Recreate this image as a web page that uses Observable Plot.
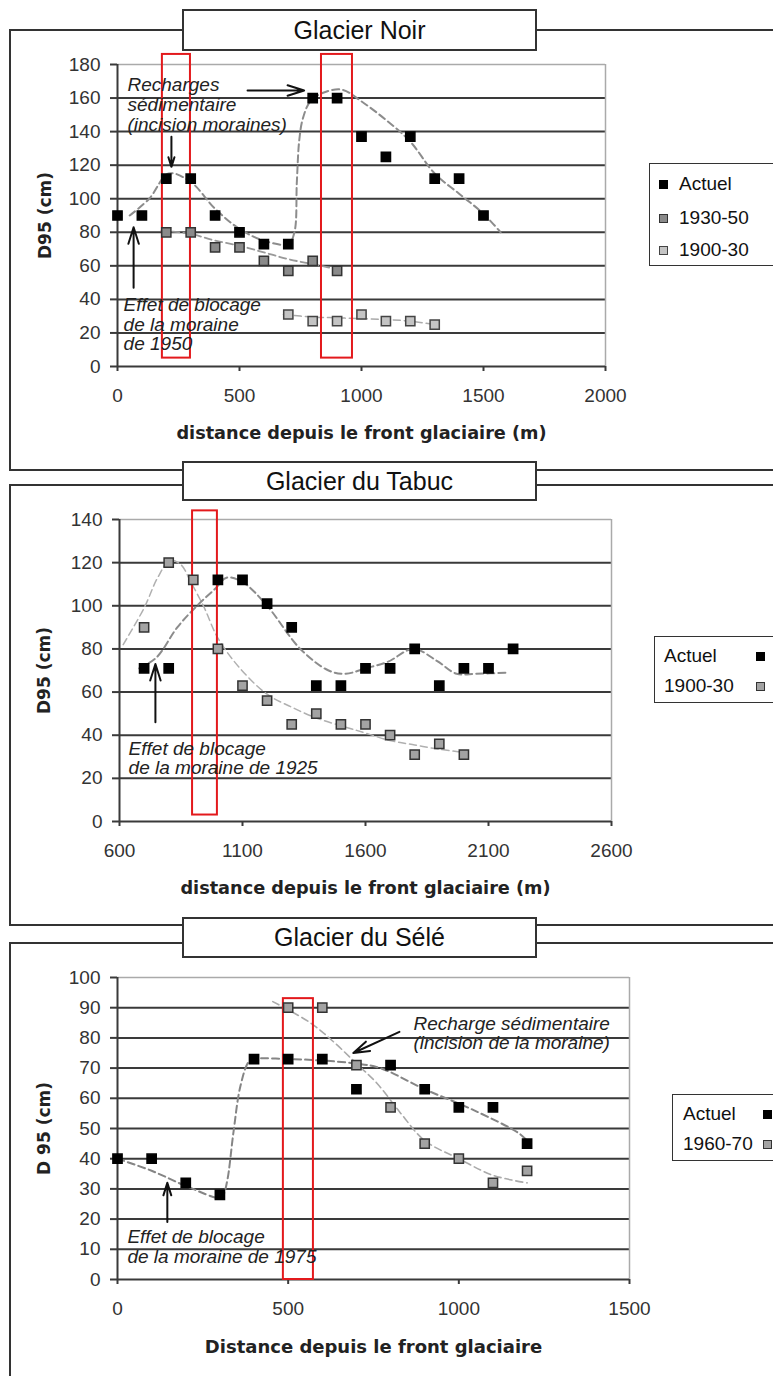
<!DOCTYPE html>
<html><head><meta charset="utf-8">
<script src="https://cdn.jsdelivr.net/npm/d3@7"></script>
<script src="https://cdn.jsdelivr.net/npm/@observablehq/plot@0.6"></script>
<style>
body{margin:0;background:#fff;}
#page{position:relative;width:773px;height:1376px;overflow:hidden;background:#fff;font-family:"Liberation Sans",Arial,sans-serif;}
.frame{position:absolute;left:9px;width:900px;border:2px solid #333;box-sizing:border-box;z-index:1;}
.title{position:absolute;left:182px;width:355px;background:#fff;border:2px solid #333;box-sizing:border-box;text-align:center;font-size:25px;color:#111;z-index:3;}
.legend{position:absolute;width:300px;background:#fff;border:1.5px solid #333;box-sizing:border-box;z-index:3;font-size:19px;color:#111;}
.item{position:absolute;white-space:nowrap;height:20px;line-height:20px;}
.sw{position:absolute;width:9px;height:9px;box-sizing:border-box;}
.plot{position:absolute;left:0;z-index:2;}
</style></head><body><div id="page"></div>
<script>
// ---------- Glacier Noir ----------
const noirTitle = "Glacier Noir";
const noirXTicks = [0, 500, 1000, 1500, 2000];
const noirYTicks = [0, 20, 40, 60, 80, 100, 120, 140, 160, 180];
const noirActuelDist = [0,100,200,300,400,500,600,700,800,900,1000,1100,1200,1300,1400,1500];
const noirActuelD95  = [90,90,112,112,90,80,73,73,160,160,137,125,137,112,112,90];
const noir1930Dist = [200,300,400,500,600,700,800,900];
const noir1930D95  = [80,80,71,71,63,57,63,57];
const noir1900Dist = [700,800,900,1000,1100,1200,1300];
const noir1900D95  = [31,27,27,31,27,27,25];
const noirActuelTrend = [[50,90],[130,100],[210,115],[300,110],[400,94],[500,82],[600,75],[700,73],[725,80],[735,110],[745,135],[760,148],[790,158],[840,163],[920,165],[1000,158],[1100,147],[1200,134],[1300,115],[1400,103],[1500,91],[1570,80]];
const noir1930Trend = [[180,81],[300,79],[400,75],[500,72],[600,68],[700,64],[800,61],[900,58]];
const noir1900Trend = [[680,31],[800,29.5],[900,29],[1000,28.5],[1100,28],[1200,27],[1300,25]];
const noirBoxes = [[184,299,5,186],[836,963,5,186]];
const noirNotes = [
  {x:41, y:156, text:"Recharges\nsédimentaire\n(incision moraines)"},
  {x:25, y:25, text:"Effet de blocage\nde la moraine\nde 1950"}
];
const noirArrows = [[533,164.5,765,164.5],[221,137,221,119],[66,47,66,83]];
const noirLegend = ["Actuel", "1930-50", "1900-30"];

// ---------- Glacier du Tabuc ----------
const tabucTitle = "Glacier du Tabuc";
const tabucXTicks = [600, 1100, 1600, 2100, 2600];
const tabucYTicks = [0, 20, 40, 60, 80, 100, 120, 140];
const tabucActuelDist = [700,800,1000,1100,1200,1300,1400,1500,1600,1700,1800,1900,2000,2100,2200];
const tabucActuelD95  = [71,71,112,112,101,90,63,63,71,71,80,63,71,71,80];
const tabuc1900Dist = [700,800,900,1000,1100,1200,1300,1400,1500,1600,1700,1800,1900,2000];
const tabuc1900D95  = [90,120,112,80,63,56,45,50,45,45,40,31,36,31];
const tabucActuelTrend = [[680,71],[750,76],[835,90],[915,100],[990,108],[1035,113],[1100,111],[1200,100],[1335,80],[1450,70],[1520,68.5],[1600,71],[1690,74],[1795,80],[1890,74.5],[1970,68.5],[2050,68.5],[2180,69]];
const tabuc1900Trend = [[615,82],[700,99],[755,113],[805,121],[850,119],[890,111],[945,99],[1000,85],[1090,71],[1200,59],[1300,53],[1400,48],[1527,43.5],[1600,41],[1700,37.5],[1800,35.5],[1900,33.5],[2000,32]];
const tabucBoxes = [[897,998,3,144]];
const tabucNotes = [{x:637, y:29.4, text:"Effet de blocage\nde la moraine de 1925"}];
const tabucArrows = [[746,46,746,73]];
const tabucLegend = ["Actuel", "1900-30"];

// ---------- Glacier du Sélé ----------
const seleTitle = "Glacier du Sélé";
const seleXTicks = [0, 500, 1000, 1500];
const seleYTicks = [0, 10, 20, 30, 40, 50, 60, 70, 80, 90, 100];
const seleActuelDist = [0,100,200,300,400,500,600,700,800,900,1000,1100,1200];
const seleActuelD95  = [40,40,32,28,73,73,73,63,71,63,57,57,45];
const sele1960Dist = [500,600,700,800,900,1000,1100,1200];
const sele1960D95  = [90,90,71,57,45,40,32,36];
const seleActuelTrend = [[0,40],[100,36],[200,31],[300,27],[310,28],[322,33],[340,49],[360,64],[384,72],[400,73],[500,73],[600,72.5],[700,71.5],[770,70],[900,63],[1045,56],[1175,48.5],[1200,46]];
const sele1960Trend = [[455,92],[565,85],[635,78.5],[700,71.5],[760,65],[830,55],[900,46],[1000,40],[1100,34.5],[1200,32]];
const seleBoxes = [[486,574,0,93]];
const seleNotes = [
  {x:867, y:81.5, text:"Recharge sédimentaire\n(incision de la moraine)"},
  {x:29, y:10.8, text:"Effet de blocage\nde la moraine de 1975"}
];
const seleArrows = [[826,82,691,75],[146,19,146,32]];
const seleLegend = ["Actuel", "1960-70"];

const xTitleM = "distance depuis le front glaciaire (m)";
const xTitleSele = "Distance depuis le front glaciaire";
const yTitleD95 = "D95 (cm)";
const yTitleSele = "D 95 (cm)";

// ---------- styles ----------
const BLACK = {fill:"#000", stroke:"#000"};
const GREY_MID = {fill:"#8a8a8a", stroke:"#333"};
const GREY_LIGHT = {fill:"#c4c4c4", stroke:"#444"};
const GREY_T = {fill:"#a3a3a3", stroke:"#333"};

const page = document.getElementById("page");

function makePanel(p) {
  const marks = [
    Plot.ruleY(p.yTicks.slice(1, -1), {stroke:"#3a3a3a", strokeWidth:2}),
    Plot.ruleY([p.yDomain[1]], {stroke:"#aaa", strokeWidth:1.5}),
    Plot.ruleX([p.xDomain[1]], {stroke:"#aaa", strokeWidth:1.5}),
    Plot.ruleX([p.xDomain[0]], {stroke:"#3a3a3a", strokeWidth:2}),
    Plot.ruleY([p.yDomain[0]], {stroke:"#3a3a3a", strokeWidth:2}),
    Plot.axisY(p.yTicks, {tickSize:7, tickPadding:10, strokeWidth:2, tickFormat:"d", label:null, fontSize:19, fill:"#333", stroke:"#3a3a3a"}),
    Plot.axisX(p.xTicks, {tickSize:5, tickPadding:17, strokeWidth:2, tickFormat:"d", label:null, fontSize:19, fill:"#333", stroke:"#3a3a3a"})
  ];
  for (const t of p.trends) {
    marks.push(Plot.line(t.data, {x:d=>d[0], y:d=>d[1], stroke:t.color, strokeWidth:t.width, strokeDasharray:"7,4", curve:"catmull-rom"}));
  }
  marks.push(Plot.rect(p.boxes, {x1:d=>d[0], x2:d=>d[1], y1:d=>d[2], y2:d=>d[3], fill:"none", stroke:"#e3191c", strokeWidth:2}));
  for (const s of p.series) {
    marks.push(Plot.dot(s.dist, {x:s.dist, y:s.d95, symbol:"square", r:5.2, fill:s.style.fill, stroke:s.style.stroke, strokeWidth:1.5}));
  }
  marks.push(Plot.arrow(p.arrows, {x1:d=>d[0], y1:d=>d[1], x2:d=>d[2], y2:d=>d[3], stroke:"#111", strokeWidth:2, headLength:13, headAngle:35}));
  marks.push(Plot.text(p.notes, {x:"x", y:"y", text:"text", textAnchor:"start", fontStyle:"italic", fontSize:19, lineHeight:1.03, fill:"#222"}));
  marks.push(Plot.text([p.xTitle], {text:d=>d, frameAnchor:"bottom", lineAnchor:"middle", textAnchor:"middle", dy:p.xTitleDy, fontWeight:"bold", fontFamily:"DejaVu Sans", fontSize:p.xTitleSize, fill:"#222"}));
  marks.push(Plot.text([p.yTitle], {text:d=>d, frameAnchor:"left", lineAnchor:"middle", textAnchor:"middle", dx:p.yTitleDx, rotate:-90, fontWeight:"bold", fontFamily:"DejaVu Sans", fontSize:17, fill:"#222"}));

  const svg = Plot.plot({
    width:773, height:p.height,
    marginLeft:p.ml, marginRight:p.mr, marginTop:p.mt, marginBottom:p.mb,
    x:{domain:p.xDomain}, y:{domain:p.yDomain},
    style:{fontFamily:'"Liberation Sans", Arial, sans-serif', fontSize:"19px", background:"transparent", overflow:"visible", color:"#333"},
    marks
  });
  svg.classList.add("plot");
  svg.style.top = p.top + "px";
  page.appendChild(svg);

  // frame + title
  const fr = document.createElement("div");
  fr.className = "frame";
  fr.style.top = p.frameTop + "px";
  fr.style.height = p.frameHeight + "px";
  page.appendChild(fr);
  const ti = document.createElement("div");
  ti.className = "title";
  ti.style.top = p.titleTop + "px";
  ti.style.height = p.titleHeight + "px";
  ti.style.lineHeight = (p.titleHeight - 4) + "px";
  ti.textContent = p.title;
  page.appendChild(ti);

  // legend
  const lg = document.createElement("div");
  lg.className = "legend";
  lg.style.left = p.legend.left + "px";
  lg.style.top = p.legend.top + "px";
  lg.style.height = p.legend.height + "px";
  p.legend.labels.forEach((lab, i) => {
    const cy = p.legend.rows[i];
    const it = document.createElement("div");
    it.className = "item";
    it.style.left = p.legend.textX + "px";
    it.style.top = (cy - 10) + "px";
    it.textContent = lab;
    lg.appendChild(it);
    const sw = document.createElement("div");
    sw.className = "sw";
    const st = p.series[i].style;
    sw.style.background = st.fill;
    sw.style.border = "1.5px solid " + st.stroke;
    sw.style.left = (p.legend.markX - 4.5) + "px";
    sw.style.top = (cy - 4.5) + "px";
    lg.appendChild(sw);
  });
  page.appendChild(lg);
}

makePanel({
  title:noirTitle, top:0, height:470, ml:117, mr:168, mt:64, mb:104,
  frameTop:29, frameHeight:442, titleTop:9, titleHeight:42,
  xDomain:[0,2000], yDomain:[0,180], xTicks:noirXTicks, yTicks:noirYTicks,
  series:[
    {dist:noir1900Dist, d95:noir1900D95, style:GREY_LIGHT},
    {dist:noir1930Dist, d95:noir1930D95, style:GREY_MID},
    {dist:noirActuelDist, d95:noirActuelD95, style:BLACK}
  ].reverse(),
  trends:[
    {data:noir1900Trend, color:"#aaa", width:1.5},
    {data:noir1930Trend, color:"#999", width:1.8},
    {data:noirActuelTrend, color:"#8c8c8c", width:2}
  ],
  boxes:noirBoxes, notes:noirNotes, arrows:noirArrows,
  xTitle:xTitleM, xTitleDy:67, xTitleSize:17.7, yTitle:yTitleD95, yTitleDx:-72,
  legend:{left:649, top:163, height:103, labels:noirLegend, rows:[20,54,86], textX:29, markX:13}
});

makePanel({
  title:tabucTitle, top:470, height:455, ml:119, mr:162, mt:49, mb:104,
  frameTop:484, frameHeight:442, titleTop:461, titleHeight:40,
  xDomain:[600,2600], yDomain:[0,140], xTicks:tabucXTicks, yTicks:tabucYTicks,
  series:[
    {dist:tabucActuelDist, d95:tabucActuelD95, style:BLACK},
    {dist:tabuc1900Dist, d95:tabuc1900D95, style:GREY_T}
  ],
  trends:[
    {data:tabuc1900Trend, color:"#b0b0b0", width:1.5},
    {data:tabucActuelTrend, color:"#8c8c8c", width:2}
  ],
  boxes:tabucBoxes, notes:tabucNotes, arrows:tabucArrows,
  xTitle:xTitleM, xTitleDy:67, xTitleSize:17.7, yTitle:yTitleD95, yTitleDx:-75,
  legend:{left:654, top:636, height:67, labels:tabucLegend, rows:[19,49], textX:9, markX:105}
});

makePanel({
  title:seleTitle, top:925, height:451, ml:117, mr:144, mt:52, mb:97,
  frameTop:942, frameHeight:600, titleTop:917, titleHeight:41,
  xDomain:[0,1500], yDomain:[0,100], xTicks:seleXTicks, yTicks:seleYTicks,
  series:[
    {dist:seleActuelDist, d95:seleActuelD95, style:BLACK},
    {dist:sele1960Dist, d95:sele1960D95, style:GREY_T}
  ],
  trends:[
    {data:sele1960Trend, color:"#aaa", width:1.6},
    {data:seleActuelTrend, color:"#858585", width:2}
  ],
  boxes:seleBoxes, notes:seleNotes, arrows:seleArrows,
  xTitle:xTitleSele, xTitleDy:68, xTitleSize:18, yTitle:yTitleSele, yTitleDx:-73,
  legend:{left:672, top:1094, height:67, labels:seleLegend, rows:[19,49], textX:10, markX:94}
});
</script></body></html>
